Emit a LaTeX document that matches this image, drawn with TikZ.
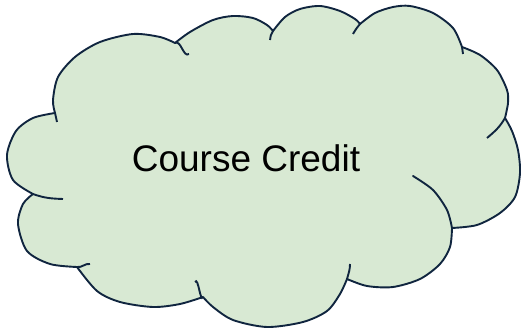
\documentclass[tikz,border=0pt]{standalone}
\usepackage{fontspec}
\setmainfont{Liberation Sans}
\definecolor{cloudfill}{HTML}{D8E9D3}
\definecolor{cloudline}{HTML}{10253F}
\begin{document}
\begin{tikzpicture}[x=1pt,y=-1pt,
  cloudedge/.style={draw=cloudline,line width=1.9pt,line cap=round,line join=round},
  hookline/.style={draw=cloudline,line width=1.9pt,line cap=butt}]
\useasboundingbox (0,0) rectangle (521,328);
% outline
\path[fill=cloudfill,cloudedge]
  (55,113) -- plot[smooth] coordinates {(55,113) (53,100) (58,77) (75,57) (100,42) (133,34) (160,37) (175,43)}
  -- plot[smooth] coordinates {(175,43) (190,32) (213,20) (233,16) (253,18) (267,25) (273,31)}
  -- plot[smooth] coordinates {(273,31) (285,17) (300,9) (320,6) (340,11) (355,19) (360,24)}
  -- plot[smooth] coordinates {(360,24) (375,13) (393,7) (410,6) (433,13) (453,28) (462,47)}
  -- plot[smooth] coordinates {(462,47) (480,55) (497,70) (507,90) (508,103) (505,118)}
  -- plot[smooth] coordinates {(505,118) (512,131) (518,150) (520,173) (515,197) (500,213) (477,225) (452,228)}
  -- plot[smooth] coordinates {(452,228) (450,247) (440,264) (420,279) (393,287) (367,286) (347,279)}
  -- plot[smooth] coordinates {(347,279) (340,294) (327,311) (303,322) (267,327) (233,320) (213,307) (203,297)}
  -- plot[smooth] coordinates {(203,297) (180,304) (153,307) (120,302) (97,291) (77,267)}
  -- plot[smooth] coordinates {(77,267) (50,264) (27,251) (18,224) (23,204) (33,194)}
  -- plot[smooth] coordinates {(33,194) (13,180) (7,155) (16,131) (33,118) (55,113)}
  -- cycle;
% inner hooks
\coordinate (h1a) at (175,43); \coordinate (h1b) at (189,54);
\coordinate (h2a) at (273,31); \coordinate (h2b) at (270,40);
\coordinate (h3a) at (360,24); \coordinate (h3b) at (353,34);
\coordinate (h4a) at (462,47); \coordinate (h4b) at (463,54);
\coordinate (h5a) at (505,118); \coordinate (h5b) at (487,138);
\coordinate (h7a) at (347,279); \coordinate (h7b) at (350,264);
\coordinate (h8a) at (203,297); \coordinate (h8b) at (195,282);
\coordinate (h9a) at (77,267); \coordinate (h9b) at (90,264);
\coordinate (h10a) at (33,194); \coordinate (h10b) at (63,199);
\coordinate (h11a) at (55,113); \coordinate (h11b) at (57,122);
\draw[hookline] (h1a) to[out=30,in=-145] (h1b);
\draw[hookline] (h2a) to[out=-115,in=95] (h2b);
\draw[hookline] (h3a) to[out=-130,in=60] (h3b);
\draw[hookline] (h4a) to[out=-85,in=90] (h4b);
\draw[hookline] (h5a) to[out=-120,in=40] (h5b);
\draw[hookline] (h7a) to[out=75,in=-90] (h7b);
\draw[hookline] (h8a) to[out=-115,in=60] (h8b);
\draw[hookline] (h9a) to[out=-10,in=170] (h9b);
\draw[hookline] (h10a) to[out=-20,in=178] (h10b);
\draw[hookline] (h11a) to[out=-80,in=100] (h11b);
% inner arc of lower right lobe
\draw[cloudedge] plot[smooth] coordinates {(413,176) (433,190) (447,210) (452,228)};
\node[font=\fontsize{37}{44}\selectfont, anchor=base] (label) at (246,172) {Course Credit};
\end{tikzpicture}
\end{document}
